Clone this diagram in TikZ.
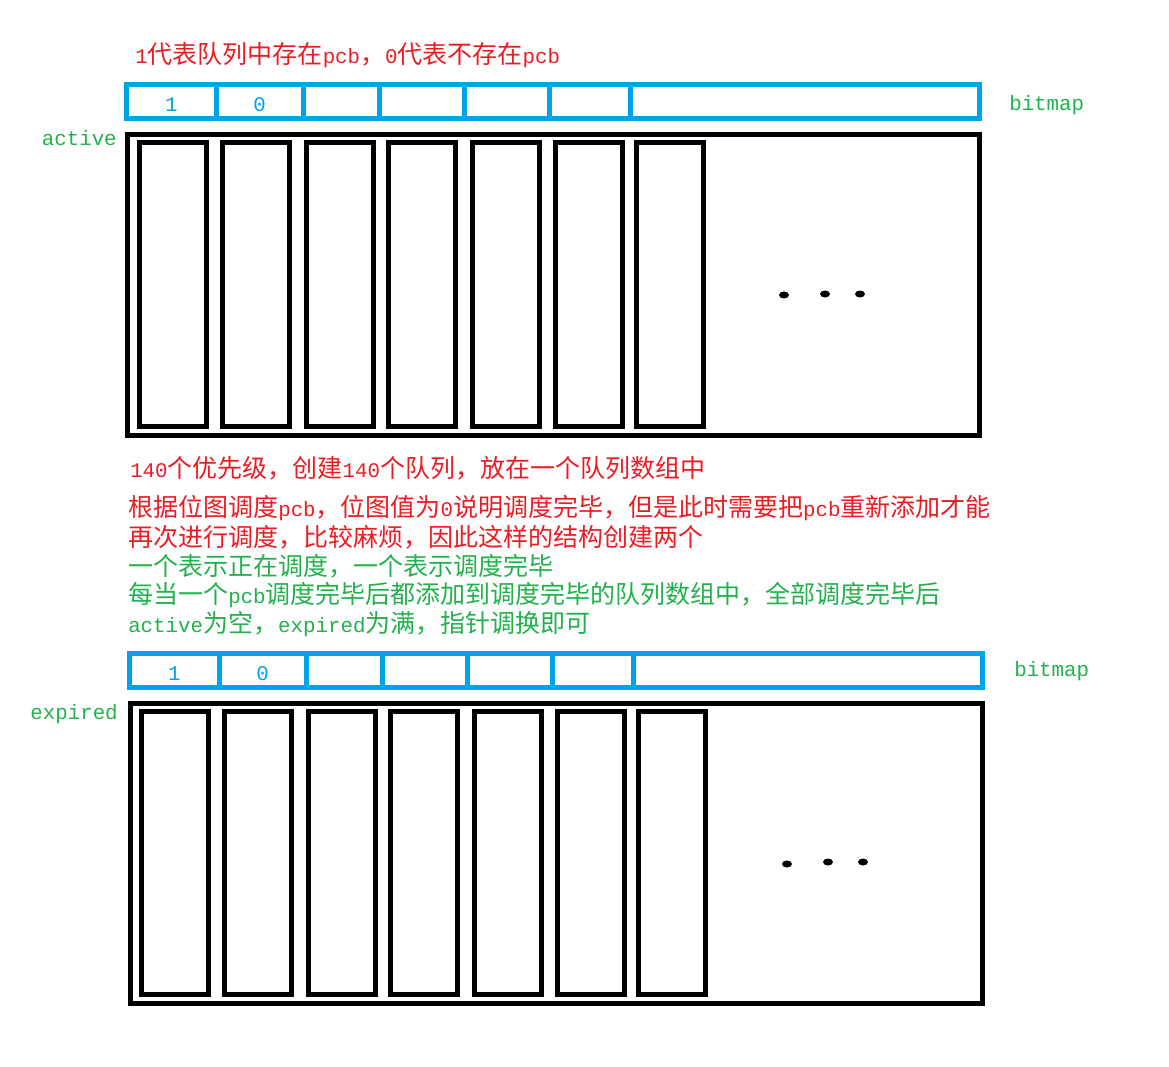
\documentclass[tikz,border=0pt]{standalone}
\usepackage{fontspec}
\usetikzlibrary{shapes.geometric}
\newfontfamily\cjk{Noto Sans CJK SC}
\newfontfamily\latmono{Liberation Mono}
\newcommand{\lm}[1]{{\fontsize{15.6}{18}\latmono #1}}
\newcommand{\bitval}[1]{\smash{\raisebox{-7.5pt}{\lm{#1}}}}
\definecolor{bitblue}{HTML}{00A2E8}
\definecolor{notered}{HTML}{ED1C24}
\definecolor{notegreen}{HTML}{22B14C}
\tikzset{
  cell/.style={draw=bitblue,line width=3.75pt,minimum height=25.5pt,inner sep=0pt,text=bitblue},
  slot/.style={draw,line width=3.75pt,minimum width=50.25pt,inner sep=0pt},
  queuebox/.style={draw,line width=3.75pt,minimum width=639pt,inner sep=0pt},
  dotmark/.style={ellipse,fill,minimum width=7.5pt,minimum height=5.25pt,inner sep=0pt},
  note/.style={anchor=west,inner sep=0pt,font=\fontsize{18.75}{22}\cjk},
  tag/.style={inner sep=0pt,text=notegreen,font=\fontsize{15.6}{18}\latmono}
}
\begin{document}
\begin{tikzpicture}[x=0.75pt,y=-0.75pt]
        \useasboundingbox (0,0) rectangle (1169,1066);

        % active
        \node[note,text=notered] (title) at (135,55) {\lm{1}代表队列中存在\lm{pcb}，\lm{0}代表不存在\lm{pcb}};

        \begin{scope}[every node/.style={cell}]
          \node[minimum width=67.125pt]  (abit1) at (171.25,101.5) {\bitval{1}};
          \node[minimum width=65.25pt]   (abit2) at (259.5,101.5)  {\bitval{0}};
          \node[minimum width=57pt]      (abit3) at (341,101.5)    {};
          \node[minimum width=63.75pt]   (abit4) at (421.5,101.5)  {};
          \node[minimum width=63.75pt]   (abit5) at (506.5,101.5)  {};
          \node[minimum width=60.75pt]   (abit6) at (589.5,101.5)  {};
          \node[minimum width=262.125pt] (abit7) at (804.75,101.5) {};
        \end{scope}
        \node[tag,anchor=west] (abitmap) at (1009,105) {bitmap};

        \node[queuebox,minimum height=225.75pt] (active) at (553.5,285) {};
        \node[tag,anchor=east] (activelabel) at (117,138) {active};

        \begin{scope}[every node/.style={slot,minimum height=213pt}]
          \node (aq1) at (173,284.5)   {};
          \node (aq2) at (255.5,284.5) {};
          \node (aq3) at (339.5,284.5) {};
          \node (aq4) at (421.5,284.5) {};
          \node (aq5) at (505.5,284.5) {};
          \node (aq6) at (588.5,284.5) {};
          \node (aq7) at (669.5,284.5) {};
        \end{scope}

        \begin{scope}[every node/.style={dotmark}]
          \node (adot1) at (784,295) {};
          \node (adot2) at (825,294) {};
          \node (adot3) at (860,294) {};
        \end{scope}

        % notes
        \begin{scope}[every node/.style={note}]
          \node[text=notered]   (note1) at (130,468) {\lm{140}个优先级，创建\lm{140}个队列，放在一个队列数组中};
          \node[text=notered]   (note2) at (128,508) {根据位图调度\lm{pcb}，位图值为\lm{0}说明调度完毕，但是此时需要把\lm{pcb}重新添加才能};
          \node[text=notered]   (note3) at (128,537) {再次进行调度，比较麻烦，因此这样的结构创建两个};
          \node[text=notegreen] (note4) at (128,566) {一个表示正在调度，一个表示调度完毕};
          \node[text=notegreen] (note5) at (128,595) {每当一个\lm{pcb}调度完毕后都添加到调度完毕的队列数组中，全部调度完毕后};
          \node[text=notegreen] (note6) at (128,624) {\lm{active}为空，\lm{expired}为满，指针调换即可};
        \end{scope}

        % expired
        \begin{scope}[every node/.style={cell}]
          \node[minimum width=67.125pt]  (ebit1) at (174.25,670) {\bitval{1}};
          \node[minimum width=65.25pt]   (ebit2) at (262.5,670)  {\bitval{0}};
          \node[minimum width=57pt]      (ebit3) at (344,670)    {};
          \node[minimum width=63.75pt]   (ebit4) at (424.5,670)  {};
          \node[minimum width=63.75pt]   (ebit5) at (509.5,670)  {};
          \node[minimum width=60.75pt]   (ebit6) at (592.5,670)  {};
          \node[minimum width=262.125pt] (ebit7) at (807.75,670) {};
        \end{scope}
        \node[tag,anchor=west] (ebitmap) at (1014,671) {bitmap};

        \node[queuebox,minimum height=225pt] (expired) at (556.5,853.5) {};
        \node[tag,anchor=east] (expiredlabel) at (118,714) {expired};

        \begin{scope}[every node/.style={slot,minimum height=212.25pt}]
          \node (eq1) at (175,853) {};
          \node (eq2) at (258,853) {};
          \node (eq3) at (342,853) {};
          \node (eq4) at (424,853) {};
          \node (eq5) at (508,853) {};
          \node (eq6) at (591,853) {};
          \node (eq7) at (672,853) {};
        \end{scope}

        \begin{scope}[every node/.style={dotmark}]
          \node (edot1) at (787,864) {};
          \node (edot2) at (828,862) {};
          \node (edot3) at (863,862) {};
        \end{scope}

      \end{tikzpicture}
\end{document}
